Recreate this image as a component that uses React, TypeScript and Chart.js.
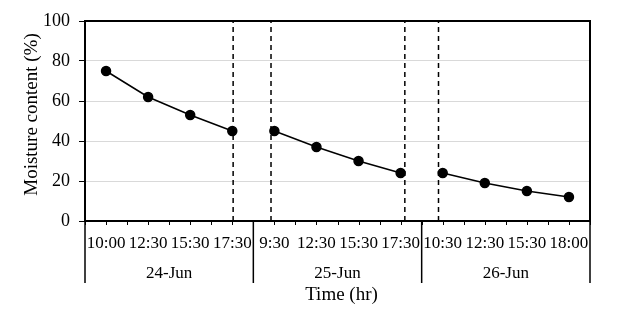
import React, { useEffect, useRef } from "react";
import { Chart, registerables } from "chart.js";

Chart.register(...registerables);

const timeLabels = ["10:00", "12:30", "15:30", "17:30", "9:30", "12:30", "15:30", "17:30", "10:30", "12:30", "15:30", "18:00"];
const dayLabels = ["24-Jun", "25-Jun", "26-Jun"];
const day1Values = [75, 62, 53, 45];
const day2Values = [45, 37, 30, 24];
const day3Values = [24, 19, 15, 12];
const dividerPositions = [3.02, 3.92, 7.1, 7.9];
const yTicks = [0, 20, 40, 60, 80, 100];

const FONT = '"Liberation Serif", "Times New Roman", serif';

export default function App() {
  const ref = useRef<HTMLCanvasElement | null>(null);

  useEffect(() => {
    document.body.style.margin = "0";
    const canvas = ref.current;
    if (!canvas) return;

    const mk = (vals: number[], start: number) => vals.map((v, i) => ({ x: start + i, y: v }));

    const lineDs = (vals: number[], start: number) => ({
      data: mk(vals, start),
      borderColor: "#000",
      backgroundColor: "#000",
      borderWidth: 1.5,
      pointRadius: 4.5,
      pointHoverRadius: 4.5,
      pointBackgroundColor: "#000",
      pointBorderColor: "#000",
      tension: 0,
    });

    const dividerDs = dividerPositions.map((p) => ({
      data: [
        { x: p, y: 0 },
        { x: p, y: 100 },
      ],
      borderColor: "#000",
      borderWidth: 1.5,
      borderDash: [5, 4],
      pointRadius: 0,
      tension: 0,
    }));

    const decor = {
      id: "decor",
      afterDraw(chart: any) {
        const { ctx, chartArea } = chart;
        const xs = chart.scales.x;
        const { left, right, top, bottom } = chartArea;
        ctx.save();
        ctx.strokeStyle = "#000";
        ctx.fillStyle = "#000";
        // plot border
        ctx.lineWidth = 2;
        ctx.strokeRect(left, top, right - left, bottom - top);
        // x minor ticks
        ctx.lineWidth = 1;
        for (let v = -0.5; v <= timeLabels.length - 0.5 + 1e-6; v += 0.5) {
          const px = Math.round(xs.getPixelForValue(v)) + 0.5;
          ctx.beginPath();
          ctx.moveTo(px, bottom);
          ctx.lineTo(px, bottom + 4);
          ctx.stroke();
        }
        // category labels
        ctx.font = `17px ${FONT}`;
        ctx.textAlign = "center";
        ctx.textBaseline = "alphabetic";
        timeLabels.forEach((l, i) => {
          ctx.fillText(l, xs.getPixelForValue(i), 248);
        });
        // group separators
        ctx.lineWidth = 1.5;
        const per = timeLabels.length / dayLabels.length;
        for (let g = 0; g <= dayLabels.length; g++) {
          const px = xs.getPixelForValue(g * per - 0.5);
          ctx.beginPath();
          ctx.moveTo(px, bottom);
          ctx.lineTo(px, 283);
          ctx.stroke();
        }
        // group labels
        dayLabels.forEach((l, g) => {
          ctx.fillText(l, xs.getPixelForValue(g * per + (per - 1) / 2), 277.5);
        });
        // axis titles
        ctx.font = `19px ${FONT}`;
        ctx.fillText("Time (hr)", 341.5, 300);
        ctx.save();
        ctx.translate(37, 114.5);
        ctx.rotate(-Math.PI / 2);
        ctx.fillText("Moisture content (%)", 0, 0);
        ctx.restore();
        ctx.restore();
      },
    };

    const chart = new Chart(canvas, {
      type: "line",
      data: {
        datasets: [lineDs(day1Values, 0), lineDs(day2Values, 4), lineDs(day3Values, 8), ...dividerDs] as any,
      },
      options: {
        animation: false,
        responsive: false,
        maintainAspectRatio: false,
        layout: { padding: { left: 0, right: 49, top: 21, bottom: 0 } },
        plugins: { legend: { display: false }, tooltip: { enabled: false } },
        scales: {
          x: {
            type: "linear",
            min: -0.5,
            max: timeLabels.length - 0.5,
            ticks: { display: false },
            grid: { display: false },
            border: { display: false },
            afterFit: (s: any) => {
              s.height = 103;
            },
          },
          y: {
            min: 0,
            max: 100,
            afterBuildTicks: (s: any) => {
              s.ticks = yTicks.map((v) => ({ value: v }));
            },
            ticks: {
              font: { family: FONT, size: 18 },
              color: "#000",
              padding: 9,
            },
            grid: {
              color: "#d9d9d9",
              tickColor: "#000",
              tickLength: 6,
              lineWidth: 1,
            },
            border: { display: false },
            afterFit: (s: any) => {
              s.width = 85;
            },
          },
        },
      },
      plugins: [decor],
    });

    return () => chart.destroy();
  }, []);

  return (
    <canvas
      ref={ref}
      width={639}
      height={324}
      style={{ display: "block", position: "absolute", left: 0, top: 0 }}
    />
  );
}
